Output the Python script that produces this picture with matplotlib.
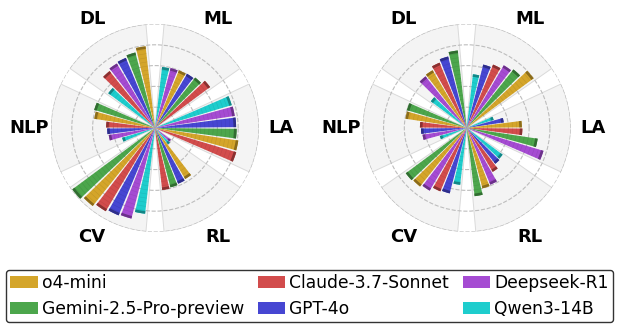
import numpy as np
import matplotlib.pyplot as plt
from matplotlib.collections import LineCollection
from matplotlib.patches import Patch

# categories (clockwise from upper right) and their centre angles in degrees
categories = ["ML", "LA", "RL", "CV", "NLP", "DL"]
cat_angles = [60, 0, -60, -120, 180, 120]

models = ["o4-mini", "Gemini-2.5-Pro-preview", "Claude-3.7-Sonnet",
          "GPT-4o", "Deepseek-R1", "Qwen3-14B"]
colors = ["#D4A52A", "#4CA64C", "#D24C4C", "#4646D2", "#A54BD2", "#1ECDCD"]

# left chart, order: ML, LA, RL, CV, NLP, DL
o4_mini_a = [0.60, 0.81, 0.57, 0.96, 0.59, 0.79]
gemini_a = [0.62, 0.785, 0.59, 0.99, 0.61, 0.75]
claude_a = [0.66, 0.815, 0.60, 0.93, 0.47, 0.70]
gpt4o_a = [0.605, 0.78, 0.58, 0.91, 0.46, 0.73]
deepseek_a = [0.595, 0.775, 0.19, 0.90, 0.45, 0.72]
qwen_a = [0.59, 0.77, 0.20, 0.83, 0.33, 0.56]

# right chart
o4_mini_b = [0.80, 0.53, 0.60, 0.72, 0.595, 0.645]
gemini_b = [0.72, 0.69, 0.66, 0.73, 0.60, 0.75]
claude_b = [0.66, 0.535, 0.49, 0.66, 0.45, 0.68]
gpt4o_b = [0.63, 0.36, 0.44, 0.65, 0.44, 0.71]
deepseek_b = [0.70, 0.77, 0.59, 0.70, 0.43, 0.635]
qwen_b = [0.52, 0.27, 0.43, 0.55, 0.27, 0.43]

left = [o4_mini_a, gemini_a, claude_a, gpt4o_a, deepseek_a, qwen_a]
right = [o4_mini_b, gemini_b, claude_b, gpt4o_b, deepseek_b, qwen_b]


def darker(c, f=0.65):
    c = np.array(plt.matplotlib.colors.to_rgb(c))
    return tuple(c * f)


def radar_bars(ax, scores):
    ax.set_ylim(0, 1.0)
    ax.set_axisbelow(True)
    # grey background sectors
    ax.bar(np.deg2rad(cat_angles), 1.0, width=np.deg2rad(50), bottom=0,
           color="#f4f4f4", edgecolor="#dadada", linewidth=0.7, zorder=0.2)
    bw = np.deg2rad(6.8)
    offsets = [20, 12, 4, -4, -12, -20]
    for j, c in enumerate(cat_angles):
        vals = [scores[m][j] for m in range(len(models))]
        order = np.argsort(vals)  # smallest first, going clockwise
        for k, m in enumerate(order):
            th = np.deg2rad(c + offsets[k])
            v = vals[m]
            ax.bar(th, v, width=bw, color=colors[m], edgecolor="none", zorder=3)
            # stripes across the bar
            rs = np.arange(0.04, v - 0.02, 0.04)
            segs = [[(th - bw / 2, r), (th + bw / 2, r)] for r in rs]
            ax.add_collection(LineCollection(segs, colors=[darker(colors[m], 0.8)],
                                             linewidths=0.4, alpha=0.45, zorder=3.5))
            # darker tip
            ax.bar(th, 0.025, width=bw, bottom=v - 0.025, color=darker(colors[m]),
                   edgecolor="none", zorder=4)
    for cat, c in zip(categories, cat_angles):
        ax.text(np.deg2rad(c), 1.21, cat, ha="center", va="center",
                fontsize=13, fontweight="bold", clip_on=False)
    ax.set_yticks([0.2, 0.4, 0.6, 0.8, 1.0])
    ax.set_yticklabels([])
    ax.set_xticks([])
    ax.yaxis.grid(True, linestyle="--", color="#bdbdbd", linewidth=0.8)
    ax.xaxis.grid(False)
    ax.spines["polar"].set_visible(False)


fig = plt.figure(figsize=(6.19, 3.24), dpi=100)
ax1 = fig.add_axes([0.0824, 0.284, 0.336, 0.642], projection="polar")
ax2 = fig.add_axes([0.586, 0.284, 0.336, 0.642], projection="polar")
radar_bars(ax1, left)
radar_bars(ax2, right)

handles = [Patch(facecolor=c, label=m) for m, c in zip(models, colors)]
fig.legend(handles=handles, loc="lower center", bbox_to_anchor=(0.5, 0.0),
           ncol=3, fontsize=12.3, handlelength=1.6, handletextpad=0.25,
           columnspacing=0.8, labelspacing=0.45, borderpad=0.25,
           borderaxespad=0.1, edgecolor="0.2", framealpha=1)

fig.savefig("out.png", dpi=100)
